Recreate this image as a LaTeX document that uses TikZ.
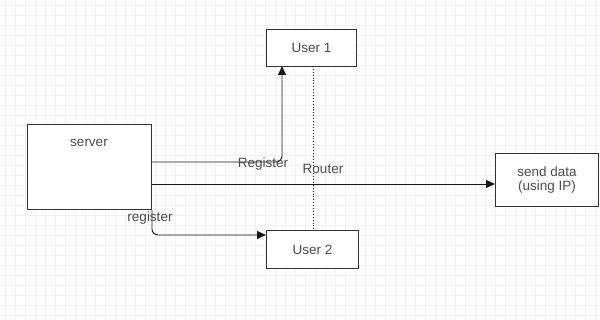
\documentclass[tikz,border=0pt]{standalone}
\usepackage{fontspec}
\setmainfont{Liberation Sans}
\usetikzlibrary{arrows.meta}
\begin{document}
\begin{tikzpicture}[x=1pt,y=-1pt,
  box/.style={draw=black!80,line width=1pt,fill=white,inner sep=0pt},
  conn/.style={draw=black!90,line width=0.9pt},
  tip/.style={-{Triangle[length=9pt,width=8pt]}},
  lbl/.style={inner sep=0pt},
  every node/.style={font=\fontsize{13.5}{15}\selectfont,text=black!70}]
\useasboundingbox (0,0) rectangle (600,320);
\fill[white] (0,0) rectangle (600,320);
\foreach \gx in {5,15,...,595} \draw[black!6,line width=0.5pt] (\gx,0) -- (\gx,320);
\foreach \gy in {5,15,...,315} \draw[black!6,line width=0.5pt] (0,\gy) -- (600,\gy);
% boxes
\node[box,minimum width=124pt,minimum height=85pt,anchor=north west] (server) at (27,124) {};
\node[lbl] (servertxt) at (89,143) {server};
\node[box,minimum width=90pt,minimum height=37pt,anchor=north west] (u1) at (266,29) {User 1};
\node[box,minimum width=92pt,minimum height=38pt,anchor=north west] (u2) at (266,230) {User 2};
\node[box,minimum width=103pt,minimum height=53pt,anchor=north west,align=center,font=\fontsize{13.5}{14}\selectfont] (sd) at (495,153) {send data\\(using IP)};
% coordinates
\coordinate (c1) at (server.north east |- 0,162);
\coordinate (c2) at (server.north east |- 0,184);
\coordinate (u1b) at (282,66);
% connectors
\draw[conn,dotted] (313,66) -- (313,230);
\draw[conn,tip,rounded corners=6pt] (c1) -- (282,162) -- (u1b);
\draw[conn,tip] (c2) -- (sd.west |- c2);
\draw[conn,tip,rounded corners=6pt] (server.south east) -- (152,235) -- (u2.west |- 0,235);
% labels
\node[lbl] (l1) at (263,164) {Register};
\node[lbl] (l2) at (323,169) {Router};
\node[lbl] (l3) at (150,218) {register};
\end{tikzpicture}
\end{document}
